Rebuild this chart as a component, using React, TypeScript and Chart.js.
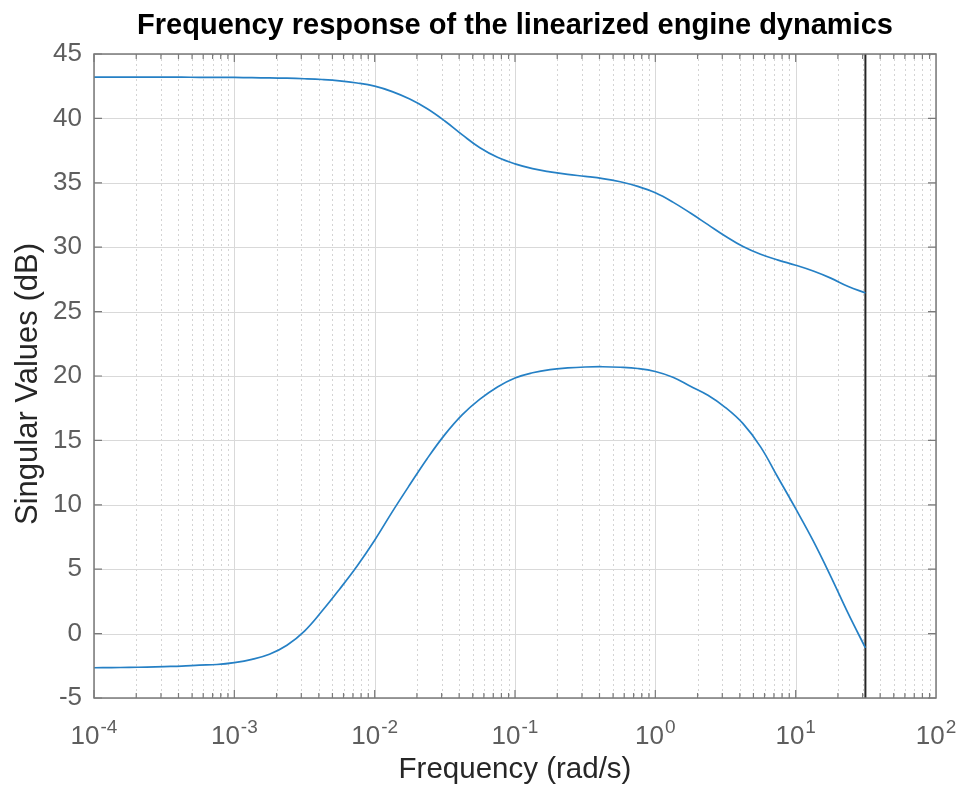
import React, { useEffect, useRef } from "react";
import { Chart, registerables } from "chart.js";

Chart.register(...registerables);

const TITLE = "Frequency response of the linearized engine dynamics";
const X_TITLE = "Frequency (rad/s)";
const Y_TITLE = "Singular Values (dB)";

// frequency grid (rad/s), the last one at the Nyquist frequency
const freq = [
  0.0001, 0.0001334, 0.0001778, 0.0002371, 0.0003162, 0.0004217, 0.0005623, 0.0007499,
  0.001, 0.001334, 0.001778, 0.002371, 0.003162, 0.004217, 0.005623, 0.007499,
  0.01, 0.01334, 0.01778, 0.02371, 0.03162, 0.04217, 0.05623, 0.07499,
  0.1, 0.1334, 0.1778, 0.2371, 0.3162, 0.4217, 0.5623, 0.7499,
  1, 1.334, 1.778, 2.371, 3.162, 4.217, 5.623, 7.499,
  10, 13.34, 17.78, 23.71, 31.4,
];

// singular values (dB)
const sigma1Db = [
  43.2, 43.2, 43.2, 43.2, 43.2, 43.2, 43.19, 43.19,
  43.18, 43.16, 43.14, 43.12, 43.08, 43.02, 42.92, 42.75,
  42.5, 42.08, 41.5, 40.75, 39.8, 38.72, 37.72, 36.98,
  36.47, 36.1, 35.85, 35.65, 35.5, 35.33, 35.08, 34.72,
  34.22, 33.5, 32.65, 31.75, 30.85, 30.05, 29.45, 29.0,
  28.6, 28.15, 27.6, 26.95, 26.45,
];
const sigma2Db = [
  -2.65, -2.64, -2.62, -2.6, -2.56, -2.52, -2.45, -2.4,
  -2.25, -2.0, -1.6, -0.9, 0.2, 1.75, 3.45, 5.25,
  7.25, 9.45, 11.55, 13.6, 15.45, 17.0, 18.2, 19.15,
  19.85, 20.25, 20.5, 20.63, 20.7, 20.72, 20.68, 20.58,
  20.35, 19.9, 19.2, 18.5, 17.55, 16.3, 14.5, 12.1,
  9.7, 7.2, 4.45, 1.55, -1.1,
];

// Nyquist marker
const markerFreq = [31.4, 31.4];
const markerDb = [-5, 45];

const xDecades = [-4, -3, -2, -1, 0, 1, 2];
const xMin = 1e-4;
const xMax = 1e2;
const yMin = -5;
const yMax = 45;
const yStep = 5;

const FONT = '"Liberation Sans", Arial, Helvetica, sans-serif';

const toPoints = (xs: number[], ys: number[]) => xs.map((x, i) => ({ x, y: ys[i] }));

const matlabPlugin = {
  id: "matlabAxes",
  beforeDatasetsDraw(chart: any) {
    const { ctx, chartArea: a, scales } = chart;
    const xs = scales.x;
    const ys = scales.y;
    ctx.save();
    // minor vertical grid (dotted)
    ctx.strokeStyle = "#d4d4d4";
    ctx.lineWidth = 1;
    ctx.setLineDash([2, 3]);
    for (let d = -4; d < 2; d++) {
      for (let m = 2; m <= 9; m++) {
        const px = Math.round(xs.getPixelForValue(m * Math.pow(10, d))) + 0.5;
        ctx.beginPath();
        ctx.moveTo(px, a.top);
        ctx.lineTo(px, a.bottom);
        ctx.stroke();
      }
    }
    ctx.setLineDash([]);
    ctx.strokeStyle = "#d9d9d9";
    for (const d of xDecades) {
      const px = Math.round(xs.getPixelForValue(Math.pow(10, d))) + 0.5;
      ctx.beginPath();
      ctx.moveTo(px, a.top);
      ctx.lineTo(px, a.bottom);
      ctx.stroke();
    }
    for (let v = yMin; v <= yMax; v += yStep) {
      const py = Math.round(ys.getPixelForValue(v)) + 0.5;
      ctx.beginPath();
      ctx.moveTo(a.left, py);
      ctx.lineTo(a.right, py);
      ctx.stroke();
    }
    ctx.restore();
  },
  afterDatasetsDraw(chart: any) {
    const { ctx, chartArea: a, scales } = chart;
    const xs = scales.x;
    const ys = scales.y;
    ctx.save();
    ctx.strokeStyle = "#7a7a7a";
    ctx.lineWidth = 1.5;
    ctx.strokeRect(a.left, a.top, a.right - a.left, a.bottom - a.top);
    ctx.lineWidth = 1.2;
    // x ticks
    for (let d = -4; d < 2; d++) {
      for (let m = 1; m <= 9; m++) {
        const px = xs.getPixelForValue(m * Math.pow(10, d));
        const len = m === 1 ? 8 : 5;
        ctx.beginPath();
        ctx.moveTo(px, a.bottom);
        ctx.lineTo(px, a.bottom - len);
        ctx.moveTo(px, a.top);
        ctx.lineTo(px, a.top + len);
        ctx.stroke();
      }
    }
    // y ticks
    for (let v = yMin; v <= yMax; v += yStep) {
      const py = ys.getPixelForValue(v);
      ctx.beginPath();
      ctx.moveTo(a.left, py);
      ctx.lineTo(a.left + 8, py);
      ctx.moveTo(a.right, py);
      ctx.lineTo(a.right - 8, py);
      ctx.stroke();
    }
    // x tick labels 10^k
    ctx.fillStyle = "#5e5e5e";
    ctx.textBaseline = "alphabetic";
    ctx.textAlign = "left";
    for (const d of xDecades) {
      const px = xs.getPixelForValue(Math.pow(10, d));
      ctx.font = `26px ${FONT}`;
      const wb = ctx.measureText("10").width;
      ctx.font = `19px ${FONT}`;
      const es = String(d);
      const we = ctx.measureText(es).width;
      const start = px - (wb + 1 + we) / 2;
      ctx.font = `26px ${FONT}`;
      ctx.fillText("10", start, 744);
      ctx.font = `19px ${FONT}`;
      ctx.fillText(es, start + wb + 1, 733);
    }
    // titles
    const cx = (a.left + a.right) / 2;
    ctx.textAlign = "center";
    ctx.fillStyle = "#000000";
    ctx.font = `bold 29px ${FONT}`;
    ctx.fillText(TITLE, cx, 34);
    ctx.fillStyle = "#262626";
    ctx.font = `29.5px ${FONT}`;
    ctx.fillText(X_TITLE, cx, 778);
    ctx.font = `31px ${FONT}`;
    ctx.translate(37, 384);
    ctx.rotate(-Math.PI / 2);
    ctx.fillText(Y_TITLE, 0, 0);
    ctx.restore();
  },
};

export default function App() {
  const ref = useRef<HTMLCanvasElement | null>(null);
  useEffect(() => {
    if (!ref.current) return;
    const lineStyle = {
      borderColor: "#2580c5",
      borderWidth: 1.7,
      pointRadius: 0,
      tension: 0.4,
      fill: false,
    };
    const chart = new Chart(ref.current, {
      type: "line",
      data: {
        datasets: [
          { label: "σ1", data: toPoints(freq, sigma1Db), ...lineStyle },
          { label: "σ2", data: toPoints(freq, sigma2Db), ...lineStyle },
          {
            label: "Nyquist",
            data: toPoints(markerFreq, markerDb),
            borderColor: "#262626",
            borderWidth: 2,
            pointRadius: 0,
            tension: 0,
            fill: false,
          },
        ],
      },
      options: {
        responsive: false,
        devicePixelRatio: 1,
        animation: false,
        layout: { padding: { top: 54, right: 26, left: 0, bottom: 0 } },
        plugins: {
          legend: { display: false },
          title: { display: false },
          tooltip: { enabled: false },
        },
        scales: {
          x: {
            type: "logarithmic",
            min: xMin,
            max: xMax,
            grid: { display: false },
            border: { display: false },
            ticks: { display: false },
            afterFit: (s: any) => {
              s.height = 89;
            },
          },
          y: {
            type: "linear",
            min: yMin,
            max: yMax,
            grid: { display: false, drawTicks: false },
            border: { display: false },
            ticks: {
              stepSize: yStep,
              padding: 12,
              color: "#5e5e5e",
              font: { family: FONT, size: 26 },
            },
            afterFit: (s: any) => {
              s.width = 94;
            },
          },
        },
      },
      plugins: [matlabPlugin],
    });
    return () => chart.destroy();
  }, []);
  return (
    <div style={{ position: "absolute", left: 0, top: 0, width: 962, height: 787, background: "#fff" }}>
      <canvas ref={ref} width={962} height={787} style={{ display: "block" }} />
    </div>
  );
}
